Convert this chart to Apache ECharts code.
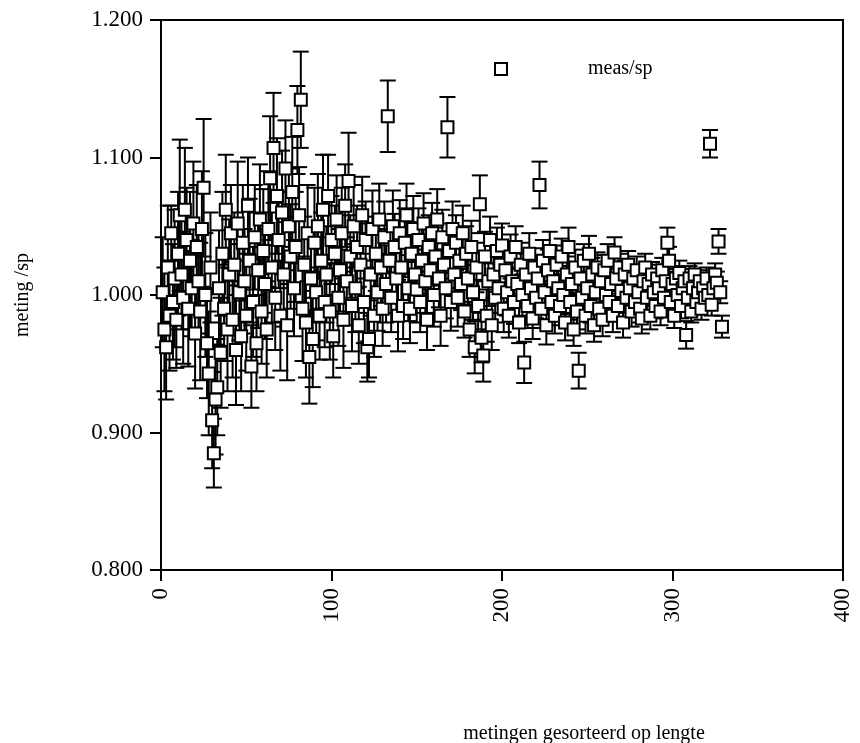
<!DOCTYPE html>
<html>
<head>
<meta charset="utf-8">
<script src="https://cdn.jsdelivr.net/npm/echarts@6/dist/echarts.min.js"></script>
<style>
  html, body { margin: 0; padding: 0; background: #fff; }
  #chart { width: 860px; height: 743px; }
</style>
</head>
<body>
<div id="chart"></div>
<script>
// measured / specified ratio per measurement, sorted by length (index 1..N)
var ratios = [
  1.002, 0.975, 0.962, 1.020, 0.985, 1.045, 0.995, 1.012, 0.982, 1.030,
  1.058, 1.015, 0.998, 1.062, 1.040, 0.990, 1.025, 1.005, 1.052, 0.972,
  1.035, 1.010, 0.988, 1.048, 1.078, 1.000, 0.965, 0.943, 1.020, 0.909,
  0.885, 0.924, 0.933, 1.005, 0.958, 1.030, 0.990, 1.062, 0.975, 1.015,
  1.045, 0.982, 1.022, 0.960, 1.052, 1.002, 0.970, 1.038, 1.010, 0.985,
  1.065, 1.025, 0.948, 0.995, 1.042, 0.965, 1.018, 1.055, 0.988, 1.032,
  1.008, 0.975, 1.048, 1.085, 1.020, 1.107, 0.998, 1.072, 1.040, 0.985,
  1.060, 1.015, 1.092, 0.978, 1.050, 1.028, 1.075, 1.005, 1.035, 1.120,
  1.058, 1.142, 0.990, 1.022, 0.980, 1.045, 0.955, 1.012, 0.968, 1.038,
  1.002, 1.050, 0.985, 1.025, 1.062, 0.995, 1.015, 1.072, 0.988, 1.040,
  0.970, 1.030, 1.055, 0.998, 1.018, 1.045, 0.982, 1.065, 1.010, 1.083,
  1.028, 0.992, 1.050, 1.005, 1.035, 0.978, 1.022, 1.058, 0.995, 1.040,
  0.962, 0.968, 1.015, 1.048, 0.985, 1.030, 1.002, 1.055, 1.020, 0.990,
  1.042, 1.008, 1.130, 1.025, 0.998, 1.050, 1.035, 1.012, 0.985, 1.045,
  1.020, 0.992, 1.038, 1.058, 1.005, 0.990, 1.030, 1.048, 1.015, 1.004,
  1.040, 0.995, 1.025, 1.052, 1.010, 0.982, 1.035, 1.018, 1.045, 1.000,
  1.028, 1.055, 1.012, 0.985, 1.042, 1.022, 1.005, 1.122, 1.032, 0.995,
  1.048, 1.015, 1.038, 0.998, 1.025, 1.008, 1.045, 0.988, 1.030, 1.012,
  0.975, 1.035, 1.002, 0.962, 1.020, 0.992, 1.066, 0.969, 0.956, 1.028,
  0.985, 1.010, 1.040, 0.978, 1.015, 0.998, 1.032, 1.005, 1.022, 1.036,
  0.990, 1.018, 1.002, 0.985, 1.028, 1.010, 0.995, 1.035, 1.008, 0.980,
  1.022, 1.000, 0.951, 1.015, 0.992, 1.030, 1.005, 0.983, 1.020, 0.998,
  1.012, 1.080, 0.990, 1.025, 1.002, 0.978, 1.018, 1.032, 0.995, 1.010,
  0.985, 1.022, 1.005, 0.992, 1.028, 1.000, 0.980, 1.015, 1.035, 0.995,
  1.008, 0.975, 1.020, 0.988, 0.945, 1.012, 0.998, 1.025, 0.985, 1.005,
  1.030, 0.992, 1.015, 0.978, 1.002, 1.020, 0.990, 1.010, 0.982, 1.018,
  1.000, 1.025, 0.995, 1.008, 0.985, 1.031, 1.012, 0.992, 1.020, 1.003,
  0.980, 1.015, 0.998, 1.022, 1.005, 0.988, 1.012, 0.995, 1.018, 1.002,
  0.990, 0.983, 1.010, 1.020, 0.998, 1.008, 0.985, 1.015, 1.002, 0.992,
  1.012, 1.005, 0.988, 1.018, 0.998, 1.010, 1.038, 1.025, 0.995, 1.008,
  0.985, 1.012, 1.000, 1.016, 0.992, 1.005, 1.010, 0.971, 0.998, 1.012,
  0.988, 1.005, 1.015, 0.995, 1.002, 1.010, 0.990, 1.005, 0.998, 1.012,
  1.000, 1.110, 0.993, 1.005, 1.015, 1.009, 1.039, 1.002, 0.977
];

// half-width of the error bar for each point
var errors = [
  0.040, 0.045, 0.038, 0.045, 0.040, 0.020, 0.042, 0.050, 0.035, 0.045,
  0.055, 0.040, 0.048, 0.045, 0.038, 0.042, 0.050, 0.035, 0.045, 0.040,
  0.045, 0.038, 0.050, 0.042, 0.050, 0.045, 0.040, 0.045, 0.040, 0.035,
  0.025, 0.040, 0.035, 0.042, 0.040, 0.045, 0.038, 0.040, 0.045, 0.040,
  0.035, 0.042, 0.038, 0.040, 0.045, 0.035, 0.040, 0.042, 0.038, 0.040,
  0.035, 0.045, 0.030, 0.040, 0.038, 0.035, 0.042, 0.040, 0.038, 0.045,
  0.040, 0.035, 0.042, 0.045, 0.040, 0.040, 0.038, 0.042, 0.035, 0.040,
  0.045, 0.038, 0.035, 0.040, 0.042, 0.038, 0.040, 0.035, 0.040, 0.032,
  0.035, 0.035, 0.038, 0.035, 0.040, 0.035, 0.034, 0.032, 0.035, 0.040,
  0.035, 0.038, 0.032, 0.035, 0.040, 0.033, 0.035, 0.030, 0.035, 0.032,
  0.030, 0.035, 0.032, 0.035, 0.030, 0.033, 0.035, 0.030, 0.032, 0.035,
  0.030, 0.033, 0.030, 0.032, 0.030, 0.028, 0.030, 0.028, 0.030, 0.028,
  0.025, 0.028, 0.030, 0.028, 0.030, 0.027, 0.028, 0.026, 0.028, 0.027,
  0.026, 0.028, 0.026, 0.027, 0.025, 0.026, 0.024, 0.025, 0.026, 0.024,
  0.025, 0.024, 0.025, 0.023, 0.024, 0.025, 0.023, 0.024, 0.022, 0.024,
  0.023, 0.022, 0.024, 0.022, 0.023, 0.022, 0.023, 0.021, 0.022, 0.023,
  0.021, 0.022, 0.021, 0.022, 0.020, 0.021, 0.022, 0.022, 0.020, 0.021,
  0.020, 0.021, 0.020, 0.021, 0.020, 0.019, 0.020, 0.019, 0.020, 0.019,
  0.020, 0.019, 0.020, 0.019, 0.018, 0.019, 0.021, 0.018, 0.019, 0.018,
  0.019, 0.018, 0.017, 0.018, 0.017, 0.018, 0.017, 0.018, 0.016, 0.016,
  0.017, 0.016, 0.017, 0.016, 0.016, 0.015, 0.016, 0.015, 0.016, 0.015,
  0.016, 0.015, 0.015, 0.015, 0.016, 0.015, 0.014, 0.015, 0.014, 0.015,
  0.014, 0.017, 0.014, 0.015, 0.014, 0.014, 0.015, 0.014, 0.013, 0.014,
  0.013, 0.014, 0.013, 0.014, 0.013, 0.014, 0.013, 0.013, 0.014, 0.013,
  0.013, 0.012, 0.013, 0.013, 0.013, 0.012, 0.013, 0.012, 0.013, 0.012,
  0.013, 0.012, 0.012, 0.012, 0.012, 0.011, 0.012, 0.011, 0.012, 0.011,
  0.011, 0.012, 0.011, 0.011, 0.012, 0.011, 0.011, 0.011, 0.010, 0.011,
  0.011, 0.010, 0.011, 0.010, 0.010, 0.011, 0.010, 0.010, 0.010, 0.010,
  0.010, 0.011, 0.010, 0.010, 0.010, 0.009, 0.010, 0.009, 0.010, 0.009,
  0.010, 0.009, 0.010, 0.009, 0.009, 0.009, 0.011, 0.010, 0.009, 0.009,
  0.009, 0.009, 0.009, 0.009, 0.009, 0.008, 0.009, 0.010, 0.008, 0.009,
  0.008, 0.009, 0.008, 0.008, 0.009, 0.008, 0.008, 0.008, 0.008, 0.008,
  0.008, 0.010, 0.008, 0.008, 0.008, 0.008, 0.009, 0.008, 0.008
];

var xTicks = [0, 100, 200, 300, 400];
var yTicks = [0.800, 0.900, 1.000, 1.100, 1.200];

var font = '"Liberation Serif", "Times New Roman", serif';

var points = [];
var bars = [];
for (var i = 0; i < ratios.length; i++) {
  points.push([i + 1, ratios[i]]);
  bars.push([i + 1, ratios[i] - errors[i], ratios[i] + errors[i]]);
}

function renderErrorBar(params, api) {
  var x = api.value(0);
  var lo = api.coord([x, api.value(1)]);
  var hi = api.coord([x, api.value(2)]);
  var half = 8;
  var style = { stroke: '#000', lineWidth: 2 };
  return {
    type: 'group',
    children: [
      { type: 'line', shape: { x1: hi[0], y1: hi[1], x2: lo[0], y2: lo[1] }, style: style },
      { type: 'line', shape: { x1: hi[0] - half, y1: hi[1], x2: hi[0] + half, y2: hi[1] }, style: style },
      { type: 'line', shape: { x1: lo[0] - half, y1: lo[1], x2: lo[0] + half, y2: lo[1] }, style: style }
    ]
  };
}

var chart = echarts.init(document.getElementById('chart'), null, { renderer: 'canvas' });
chart.setOption({
  animation: false,
  backgroundColor: '#fff',
  grid: {
    left: 161, right: 17, top: 20, bottom: 173,
    outerBoundsMode: 'none',
    containLabel: false,
    show: true, borderColor: '#000', borderWidth: 2
  },
  legend: {
    data: ['meas/sp'],
    left: 489, top: 54,
    itemWidth: 12, itemHeight: 12,
    textStyle: { fontFamily: font, fontSize: 20, color: '#000', padding: [0, 0, 0, 76] }
  },
  xAxis: {
    type: 'value',
    min: xTicks[0], max: xTicks[xTicks.length - 1], interval: 100,
    name: 'metingen gesorteerd op lengte',
    nameLocation: 'middle',
    nameGap: 154,
    nameTextStyle: { fontFamily: font, fontSize: 20, color: '#000', padding: [0, 0, 0, 164] },
    axisLine: { onZero: false, lineStyle: { color: '#000', width: 2 } },
    axisTick: { inside: false, length: 11, lineStyle: { color: '#000', width: 2 } },
    axisLabel: { rotate: 90, margin: 18, fontFamily: font, fontSize: 23, color: '#000' },
    splitLine: { show: false }
  },
  yAxis: {
    type: 'value',
    min: yTicks[0], max: yTicks[yTicks.length - 1], interval: 0.1,
    name: 'meting /sp',
    nameLocation: 'middle',
    nameRotate: 90,
    nameGap: 128,
    nameTextStyle: { fontFamily: font, fontSize: 20, color: '#000' },
    axisLine: { onZero: false, lineStyle: { color: '#000', width: 2 } },
    axisTick: { inside: false, length: 11, lineStyle: { color: '#000', width: 2 } },
    axisLabel: {
      margin: 18, fontFamily: font, fontSize: 23, color: '#000',
      formatter: function (v) { return v.toFixed(3); }
    },
    splitLine: { show: false }
  },
  series: [
    {
      name: 'errors',
      type: 'custom',
      renderItem: renderErrorBar,
      data: bars,
      encode: { x: 0, y: [1, 2] },
      z: 2,
      silent: true
    },
    {
      name: 'meas/sp',
      type: 'scatter',
      data: points,
      symbol: 'rect',
      symbolSize: 12,
      itemStyle: { color: '#fff', borderColor: '#000', borderWidth: 2, opacity: 1 },
      z: 3
    }
  ]
});
</script>
</body>
</html>
